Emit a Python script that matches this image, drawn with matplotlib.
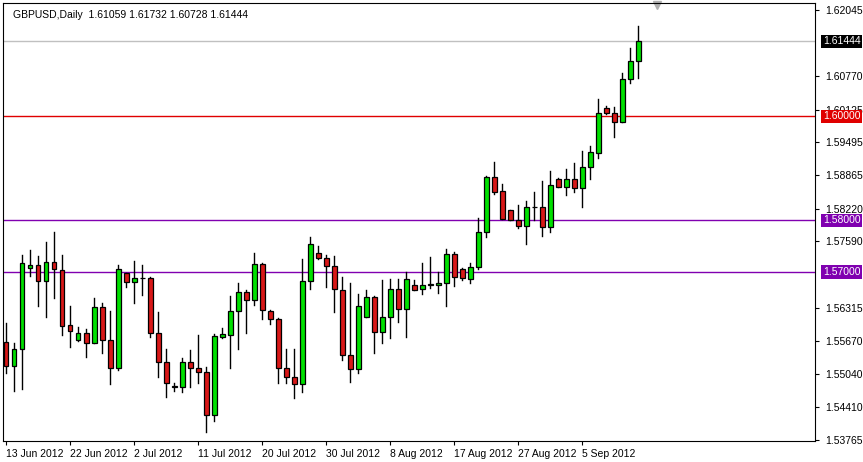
import matplotlib
matplotlib.use("Agg")
import matplotlib.pyplot as plt
from matplotlib.patches import Rectangle

plt.rcParams['font.family'] = ['Liberation Sans', 'DejaVu Sans']

opens = [1.5565,1.5519,1.5552,1.5708,1.5713,1.5683,1.5719,1.5704,1.5598,1.5569,
         1.5582,1.5563,1.5633,1.5569,1.5515,1.5698,1.5681,1.5688,1.5688,1.5582,
         1.5527,1.5479,1.5479,1.5527,1.5515,1.5508,1.5425,1.5575,1.5579,1.5625,
         1.5661,1.5646,1.5715,1.5625,1.5610,1.5515,1.5498,1.5485,1.5683,1.5737,
         1.5727,1.5711,1.5665,1.5540,1.5513,1.5613,1.5652,1.5584,1.5613,1.5667,
         1.5629,1.5675,1.5667,1.5675,1.5675,1.5679,1.5735,1.5706,1.5686,1.5710,
         1.5777,1.5883,1.5856,1.5819,1.5800,1.5789,1.5825,1.5825,1.5787,1.5879,
         1.5864,1.5879,1.5862,1.5902,1.5929,1.6016,1.6006,1.5989,1.6072,1.61059]
highs = [1.5602,1.5563,1.5733,1.5742,1.5731,1.5758,1.5777,1.5733,1.5635,1.5594,
         1.5590,1.5650,1.5640,1.5625,1.5713,1.5698,1.5721,1.5713,1.5690,1.5623,
         1.5552,1.5487,1.5534,1.5550,1.5579,1.5517,1.5581,1.5592,1.5654,1.5679,
         1.5665,1.5737,1.5717,1.5627,1.5611,1.5552,1.5552,1.5725,1.5767,1.5750,
         1.5733,1.5731,1.5690,1.5679,1.5658,1.5665,1.5654,1.5685,1.5686,1.5686,
         1.5700,1.5685,1.5717,1.5729,1.5700,1.5744,1.5738,1.5708,1.5717,1.5804,
         1.5885,1.5912,1.5869,1.5819,1.5829,1.5837,1.5854,1.5875,1.5894,1.5881,
         1.5898,1.5910,1.5933,1.5943,1.6033,1.6020,1.6018,1.6083,1.6131,1.61732]
lows = [1.5506,1.5471,1.5475,1.5692,1.5635,1.5613,1.5650,1.5579,1.5556,1.5567,
        1.5536,1.5563,1.5544,1.5485,1.5511,1.5671,1.5640,1.5656,1.5575,1.5498,
        1.5459,1.5471,1.5469,1.5479,1.5487,1.5392,1.5413,1.5573,1.5515,1.5552,
        1.5582,1.5637,1.5610,1.5600,1.5487,1.5487,1.5458,1.5469,1.5667,1.5725,
        1.5671,1.5623,1.5531,1.5488,1.5506,1.5613,1.5544,1.5563,1.5573,1.5604,
        1.5575,1.5665,1.5658,1.5669,1.5660,1.5635,1.5673,1.5685,1.5679,1.5706,
        1.5767,1.5850,1.5802,1.5800,1.5785,1.5754,1.5800,1.5769,1.5777,1.5864,
        1.5848,1.5854,1.5825,1.5879,1.5919,1.6004,1.5960,1.5989,1.6064,1.60728]
closes = [1.5519,1.5552,1.5717,1.5713,1.5683,1.5719,1.5706,1.5596,1.5586,1.5582,
          1.5563,1.5633,1.5569,1.5515,1.5706,1.5681,1.5688,1.5689,1.5582,1.5527,
          1.5487,1.5480,1.5527,1.5515,1.5508,1.5425,1.5577,1.5581,1.5625,1.5661,
          1.5646,1.5715,1.5627,1.5610,1.5515,1.5498,1.5485,1.5683,1.5754,1.5727,
          1.5711,1.5667,1.5540,1.5513,1.5635,1.5652,1.5584,1.5613,1.5667,1.5629,
          1.5686,1.5665,1.5675,1.5676,1.5679,1.5735,1.5690,1.5688,1.5710,1.5777,
          1.5883,1.5854,1.5802,1.5800,1.5789,1.5825,1.5826,1.5787,1.5867,1.5864,
          1.5879,1.5862,1.5902,1.5931,1.6006,1.6006,1.5989,1.6072,1.6106,1.61444]

date_labels = ["13 Jun 2012","22 Jun 2012","2 Jul 2012","11 Jul 2012","20 Jul 2012",
               "30 Jul 2012","8 Aug 2012","17 Aug 2012","27 Aug 2012","5 Sep 2012"]
date_idx = [0, 8, 16, 24, 32, 40, 48, 56, 64, 72]
price_ticks = [1.62045,1.60770,1.60125,1.59495,1.58865,1.58220,1.57590,
               1.56315,1.55670,1.55040,1.54410,1.53765]
levels = [1.60000, 1.58000, 1.57000]
level_colors = ["#e00000", "#8000b0", "#8000b0"]
last_price = 1.61444

W, H = 863, 462
fig = plt.figure(figsize=(W/100, H/100), dpi=100)
ax = fig.add_axes([3/W, 1-441/H, 812/W, 438/H])
ax.set_xlim(-0.375, 101.1)
ax.set_ylim(1.53746, 1.62180)

bw = 0.62
for i, (o, h, l, c) in enumerate(zip(opens, highs, lows, closes)):
    ax.plot([i, i], [l, h], color="black", lw=1, zorder=3)
    col = "#00e000" if c >= o else "#d81818"
    lo, hi = min(o, c), max(o, c)
    if hi - lo < 0.00005:
        ax.plot([i - bw/2, i + bw/2], [o, o], color="black", lw=1, zorder=4)
    else:
        ax.add_patch(Rectangle((i - bw/2, lo), bw, hi - lo, facecolor=col,
                               edgecolor="black", lw=0.9, zorder=4))

for lv, lc in zip(levels, level_colors):
    ax.axhline(lv, color=lc, lw=1, zorder=2)
ax.axhline(last_price, color="#c0c0c0", lw=1, zorder=1)

ax.yaxis.tick_right()
ax.set_yticks(price_ticks)
ax.set_yticklabels([f"{p:.5f}" for p in price_ticks])
ax.tick_params(axis="y", length=3, labelsize=7.5, pad=4, color="black")
ax.set_xticks(date_idx)
ax.set_xticklabels(date_labels, ha="left")
ax.tick_params(axis="x", length=3, labelsize=7.5, pad=3)

boxes = [(last_price, "black"), (1.60000, "#e00000"), (1.58000, "#8000b0"), (1.57000, "#8000b0")]
for v, bc in boxes:
    ax.text(1.0095, v, f"{v:.5f}", transform=ax.get_yaxis_transform(), fontsize=7.5,
            color="white", va="center", ha="left", zorder=10,
            bbox=dict(boxstyle="square,pad=0.15", facecolor=bc, edgecolor="none"))

ax.text(0.012, 0.985, "GBPUSD,Daily  1.61059 1.61732 1.60728 1.61444",
        transform=ax.transAxes, fontsize=7.5, va="top", ha="left")
ax.plot([(657-6)/8], [1.62135], marker="v", color="#b0b0b0", ms=6, clip_on=False)

for s in ax.spines.values():
    s.set_color("black")
fig.savefig("out.png", dpi=100)
